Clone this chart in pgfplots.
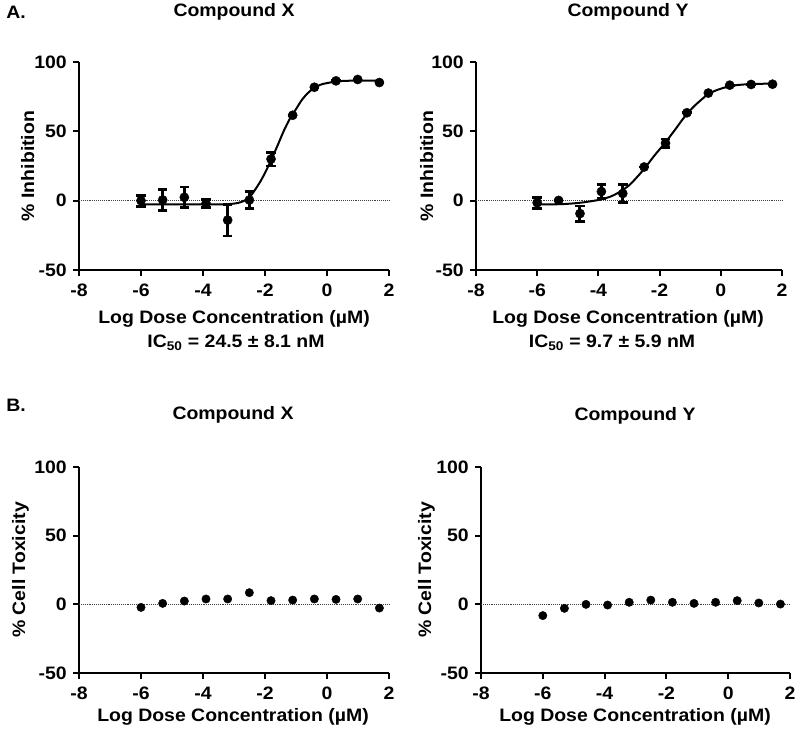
\documentclass[border=0pt]{standalone}
\usepackage{fontspec}
\setmainfont{Liberation Sans}[FakeStretch=1.08]
\usepackage{pgfplots}
\usepackage{pgfplotstable}
\pgfplotsset{compat=1.18}

\pgfplotstableread{
x e y
-6.000 4.0 0.0
-5.301 7.5 0.5
-4.602 7.5 2.4
-3.903 3.0 -2.0
-3.204 11.5 -14.0
-2.505 6.0 0.5
-1.806 5.0 30.0
-1.107 0.0 61.6
-0.408 0.0 81.8
0.291 0.0 86.4
0.990 0.0 87.4
1.690 0.0 85.2
}\inhX

\pgfplotstableread{
x e y
-6.000 4.0 -1.5
-5.301 0.0 0.2
-4.602 5.5 -9.3
-3.903 5.0 6.6
-3.204 6.5 5.2
-2.505 0.0 24.3
-1.806 3.0 41.5
-1.107 0.0 63.4
-0.408 0.0 77.6
0.291 0.0 83.3
0.990 0.0 83.8
1.690 0.0 84.0
}\inhY

\pgfplotstableread{
x y
-6.000 -2.2
-5.301 0.7
-4.602 2.4
-3.903 3.9
-3.204 3.9
-2.505 8.5
-1.806 2.7
-1.107 3.1
-0.408 3.9
0.291 3.6
0.990 3.9
1.690 -2.7
}\toxX

\pgfplotstableread{
x y
-6.000 -8.2
-5.301 -2.9
-4.602 0.0
-3.903 -0.5
-3.204 1.5
-2.505 3.1
-1.806 1.5
-1.107 0.7
-0.408 1.5
0.291 2.7
0.990 1.0
1.690 0.2
}\toxY

\pgfplotsset{gp/.style={
  scale only axis,
  anchor=south west,
  axis lines=left,
  axis line style={-, line width=2pt},
  xmin=-8, xmax=2, ymin=-50, ymax=100,
  xtick={-8,-6,-4,-2,0,2}, xticklabels={-8,-6,-4,-2,0,2},
  ytick={-50,0,50,100}, yticklabels={-50,0,50,100},
  tick align=outside,
  major tick length=6pt,
  tick style={line width=2pt, black},
  x tick label style={yshift=-2pt},
  clip=false,
},
zeroline/.style={densely dotted, line width=0.9pt, black!75},
fitline/.style={smooth, line width=2pt, black, no marks},
dots/.style={only marks, mark=*, mark size=4.5pt, black},
ebar/.style={only marks, mark=*, mark size=4.6pt, black,
  error bars/.cd, y dir=both, y explicit,
  error bar style={line width=3pt},
  error mark options={rotate=90, line width=2.8pt, mark size=4.8pt}},
}

\begin{document}
\fontsize{18pt}{21pt}\selectfont\bfseries
\begin{tikzpicture}[x=1pt,y=1pt]
\path[use as bounding box] (0,0) rectangle (800,-732);

% ---------- Panel A, Compound X ----------
\begin{axis}[gp, at={(79pt,-270pt)}, width=310pt, height=208pt]
\addplot[zeroline] coordinates {(-8,0) (2,0)};
\addplot[fitline] coordinates {
(-6,-2.7) (-5,-2.7) (-4,-2.7) (-3.2,-2.5) (-2.8,-1.2) (-2.5,2.5) (-2.2,12)
(-2.0,20) (-1.8,29.5) (-1.6,39.5) (-1.4,50) (-1.2,59) (-1.0,66) (-0.8,73)
(-0.6,78) (-0.4,81.5) (-0.2,83.7) (0,84.8) (0.4,86.2) (1,86.6) (1.7,86.6)};
\addplot[ebar] table[x=x, y=y, y error=e] {\inhX};
\end{axis}

% ---------- Panel A, Compound Y ----------
\begin{axis}[gp, at={(476pt,-270pt)}, width=306pt, height=208pt]
\addplot[zeroline] coordinates {(-8,0) (2,0)};
\addplot[fitline] coordinates {
(-6,-2.7) (-5.2,-2.5) (-4.6,-1.5) (-4,0.5) (-3.6,3) (-3.3,6.4) (-3.0,11)
(-2.8,15.5) (-2.5,23) (-2.2,31.7) (-2.0,37) (-1.8,42.3) (-1.5,51) (-1.2,60)
(-0.9,67.5) (-0.6,73.5) (-0.4,77) (-0.1,80) (0.3,82.6) (0.7,83.7) (1.2,84.2) (1.7,84.5)};
\addplot[ebar] table[x=x, y=y, y error=e] {\inhY};
\end{axis}

% ---------- Panel B, Compound X ----------
\begin{axis}[gp, at={(79pt,-673pt)}, width=310pt, height=206pt]
\addplot[zeroline] coordinates {(-8,0) (2,0)};
\addplot[dots, mark size=4.2pt] table[x=x, y=y] {\toxX};
\end{axis}

% ---------- Panel B, Compound Y ----------
\begin{axis}[gp, at={(481pt,-673pt)}, width=309pt, height=206pt]
\addplot[zeroline] coordinates {(-8,0) (2,0)};
\addplot[dots, mark size=4.2pt] table[x=x, y=y] {\toxY};
\end{axis}

% ---------- texts ----------
\node at (16,-12) {A.};
\node at (16,-405) {B.};
\node at (234,-12) {Compound X};
\node at (628,-12) {Compound Y};
\node at (233,-415) {Compound X};
\node at (635,-416) {Compound Y};

\node[rotate=90, anchor=base] at (34,-166) {\% Inhibition};
\node[rotate=90, anchor=base] at (433,-166) {\% Inhibition};
\node[rotate=90, anchor=base] at (25,-570) {\% Cell Toxicity};
\node[rotate=90, anchor=base] at (431,-570) {\% Cell Toxicity};

\node at (234,-319) {Log Dose Concentration (µM)};
\node at (628,-319) {Log Dose Concentration (µM)};
\node at (233,-717) {Log Dose Concentration (µM)};
\node at (635,-717) {Log Dose Concentration (µM)};

\node at (236,-343) {IC\textsubscript{50} = 24.5 ± 8.1 nM};
\node at (612,-343) {IC\textsubscript{50} = 9.7 ± 5.9 nM};
\end{tikzpicture}
\end{document}
